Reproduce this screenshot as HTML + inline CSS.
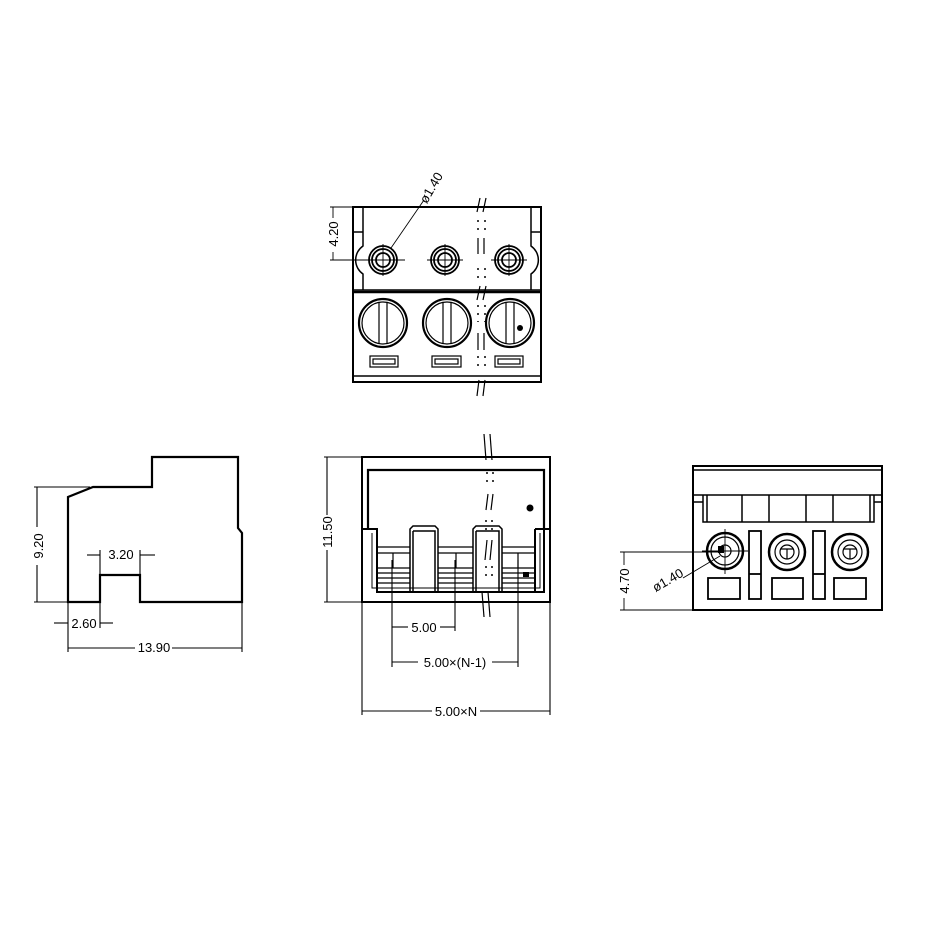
<!DOCTYPE html>
<html><head><meta charset="utf-8"><style>
html,body{margin:0;padding:0;background:#fff}
svg{display:block}
text{font-family:"Liberation Sans",sans-serif;font-size:13px;fill:#000}
</style></head><body>
<svg width="946" height="946" viewBox="0 0 946 946" xmlns="http://www.w3.org/2000/svg">
<g fill="none" stroke="#000">
<!-- LEFT SIDE VIEW -->
<path d="M68,602 V497 L93,487 H152 V457 H238 V528 L242,533 V602 H140 V575 H100 V602 Z" stroke-width="2.2"/>
<g stroke-width="1.1">
<line x1="34" y1="487" x2="90" y2="487"/><line x1="34" y1="602" x2="68" y2="602"/>
<line x1="37" y1="487" x2="37" y2="527"/><line x1="37" y1="565" x2="37" y2="602"/>
<line x1="100" y1="550" x2="100" y2="628"/><line x1="140" y1="550" x2="140" y2="575"/>
<line x1="87" y1="555" x2="100" y2="555"/><line x1="140" y1="555" x2="155" y2="555"/>
<line x1="54" y1="623" x2="68" y2="623"/><line x1="100" y1="623" x2="113" y2="623"/>
<line x1="68" y1="602" x2="68" y2="652"/><line x1="242" y1="602" x2="242" y2="652"/>
<line x1="68" y1="648" x2="135" y2="648"/><line x1="172" y1="648" x2="242" y2="648"/>
</g>
<!-- TOP VIEW -->
<rect x="353" y="207" width="188" height="175" stroke-width="2"/>
<line x1="353" y1="292" x2="541" y2="292" stroke-width="2.5"/>
<line x1="353" y1="376" x2="541" y2="376" stroke-width="1.5"/>
<path d="M363,207 V232 M353,232 H363 M363,232 V246 A17,17 0 0 0 363,274 V290 M353,290 H541" stroke-width="1.5"/>
<path d="M531,207 V232 M541,232 H531 M531,232 V246 A17,17 0 0 1 531,274 V290" stroke-width="1.5"/>
<g stroke-width="1.8">
<circle cx="383" cy="260" r="14"/><circle cx="383" cy="260" r="11"/><circle cx="383" cy="260" r="7"/>
<circle cx="445" cy="260" r="14"/><circle cx="445" cy="260" r="11"/><circle cx="445" cy="260" r="7"/>
<circle cx="509" cy="260" r="14"/><circle cx="509" cy="260" r="11"/><circle cx="509" cy="260" r="7"/>
</g>
<g stroke-width="0.9">
<line x1="365" y1="260" x2="405" y2="260"/><line x1="383" y1="244" x2="383" y2="276"/>
<line x1="427" y1="260" x2="463" y2="260"/><line x1="445" y1="244" x2="445" y2="276"/>
<line x1="491" y1="260" x2="527" y2="260"/><line x1="509" y1="244" x2="509" y2="276"/>
<line x1="330" y1="207" x2="353" y2="207"/><line x1="330" y1="260" x2="372" y2="260"/>
<line x1="333" y1="207" x2="333" y2="218"/><line x1="333" y1="252" x2="333" y2="260"/>
<line x1="391" y1="248" x2="424" y2="200"/>
</g>
<g stroke-width="2.2">
<circle cx="383" cy="323" r="24"/><circle cx="447" cy="323" r="24"/><circle cx="510" cy="323" r="24"/>
</g>
<g stroke-width="1.2">
<circle cx="383" cy="323" r="21"/><circle cx="447" cy="323" r="21"/><circle cx="510" cy="323" r="21"/>
<path d="M379,302 V344 M387,302 V344 M443,302 V344 M451,302 V344 M506,302 V344 M514,302 V344"/>
<rect x="370" y="356" width="28" height="11"/><rect x="373" y="359" width="22" height="5"/>
<rect x="432" y="356" width="29" height="11"/><rect x="435" y="359" width="23" height="5"/>
<rect x="495" y="356" width="28" height="11"/><rect x="498" y="359" width="22" height="5"/>
</g>
<circle cx="520" cy="328" r="3" fill="#000" stroke="none"/>
<g stroke-width="1.2">
<line x1="477" y1="212" x2="480" y2="198"/><line x1="483" y1="212" x2="486" y2="198"/>
<line x1="478" y1="238" x2="478" y2="254"/><line x1="484" y1="238" x2="484" y2="254"/>
<line x1="477" y1="300" x2="480" y2="286"/><line x1="483" y1="300" x2="486" y2="286"/>
<line x1="478" y1="333" x2="478" y2="350"/><line x1="484" y1="333" x2="484" y2="350"/>
<line x1="477" y1="396" x2="479" y2="380"/><line x1="483" y1="396" x2="485" y2="380"/>
</g>
<g stroke-width="1.5" stroke-dasharray="2,6">
<line x1="478" y1="220" x2="478" y2="236"/><line x1="485" y1="220" x2="485" y2="236"/>
<line x1="478" y1="268" x2="478" y2="282"/><line x1="485" y1="268" x2="485" y2="282"/>
<line x1="478" y1="305" x2="478" y2="322"/><line x1="485" y1="305" x2="485" y2="322"/>
<line x1="478" y1="356" x2="478" y2="372"/><line x1="485" y1="356" x2="485" y2="372"/>
</g>
<!-- FRONT VIEW -->
<rect x="362" y="457" width="188" height="145" stroke-width="2"/>
<path d="M368,529 V470 H544 V529" stroke-width="2.2"/>
<path d="M368,529 H377 V592 H544 V529 M535,529 H550 M362,529 H368 M535,529 V592" stroke-width="2"/>
<path d="M372,533 V588 H540 V533" stroke-width="1"/>
<path d="M410,592 V529 L413,526 H435 L438,529 V592 M413,531 H435 V592 M413,531 V592" stroke-width="1.5"/>
<path d="M473,592 V529 L476,526 H499 L502,529 V592 M476,531 H499 V592 M476,531 V592" stroke-width="1.5"/>
<g stroke-width="1.2">
<path d="M378,547 H410 M378,553 H410 M378,568 H410 M378,573 H410 M378,578 H410 M378,583 H410 M393,553 V568"/>
<path d="M438,547 H473 M438,553 H473 M438,568 H473 M438,573 H473 M438,578 H473 M438,583 H473 M456,553 V568"/>
<path d="M502,547 H535 M502,553 H535 M502,568 H535 M502,573 H535 M502,578 H535 M502,583 H535 M518,553 V568"/>
</g>
<rect x="523" y="572" width="6" height="5" fill="#000" stroke="none"/>
<circle cx="530" cy="508" r="3.5" fill="#000" stroke="none"/>
<g stroke-width="1.2">
<line x1="486" y1="460" x2="484" y2="434"/><line x1="492" y1="460" x2="490" y2="434"/>
<line x1="486" y1="510" x2="488" y2="494"/><line x1="491" y1="510" x2="493" y2="494"/>
<line x1="485" y1="560" x2="487" y2="540"/><line x1="490" y1="560" x2="492" y2="540"/>
<line x1="484" y1="617" x2="482" y2="592"/><line x1="490" y1="617" x2="488" y2="592"/>
</g>
<g stroke-width="1.5" stroke-dasharray="2,6">
<line x1="487" y1="472" x2="487" y2="488"/><line x1="493" y1="472" x2="493" y2="488"/>
<line x1="486" y1="520" x2="486" y2="530"/><line x1="492" y1="520" x2="492" y2="530"/>
<line x1="486" y1="566" x2="486" y2="582"/><line x1="492" y1="566" x2="492" y2="582"/>
</g>
<g stroke-width="1.1">
<line x1="324" y1="457" x2="362" y2="457"/><line x1="324" y1="602" x2="362" y2="602"/>
<line x1="327" y1="457" x2="327" y2="515"/><line x1="327" y1="550" x2="327" y2="602"/>
<line x1="392" y1="560" x2="392" y2="667"/><line x1="455" y1="560" x2="455" y2="631"/><line x1="518" y1="560" x2="518" y2="667"/>
<line x1="362" y1="602" x2="362" y2="715"/><line x1="550" y1="602" x2="550" y2="715"/>
<line x1="392" y1="627" x2="408" y2="627"/><line x1="440" y1="627" x2="455" y2="627"/>
<line x1="392" y1="662" x2="418" y2="662"/><line x1="492" y1="662" x2="518" y2="662"/>
<line x1="362" y1="711" x2="432" y2="711"/><line x1="480" y1="711" x2="550" y2="711"/>
</g>
<!-- RIGHT VIEW -->
<rect x="693" y="466" width="189" height="144" stroke-width="2"/>
<line x1="693" y1="470" x2="882" y2="470" stroke-width="1.5"/>
<line x1="693" y1="495" x2="882" y2="495" stroke-width="1.5"/>
<path d="M703,495 V522 H874 V495 M707,495 V522 M870,495 V522 M742,495 V522 M769,495 V522 M806,495 V522 M833,495 V522 M693,502 H703 M874,502 H882" stroke-width="1.5"/>
<g stroke-width="2.5"><circle cx="725" cy="551" r="18"/><circle cx="787" cy="552" r="18"/><circle cx="850" cy="552" r="18"/></g>
<g stroke-width="1.2"><circle cx="725" cy="551" r="14"/><circle cx="787" cy="552" r="12"/><circle cx="850" cy="552" r="12"/>
<circle cx="725" cy="551" r="6"/><circle cx="787" cy="552" r="7"/><circle cx="850" cy="552" r="7"/>
<path d="M781,549 H793 M787,549 V559 M844,549 H856 M850,549 V559"/></g>
<rect x="718" y="546" width="6" height="7" fill="#000" stroke="none"/>
<g stroke-width="0.9">
<line x1="702" y1="551" x2="748" y2="551"/><line x1="725" y1="529" x2="725" y2="574"/>
<line x1="620" y1="552" x2="722" y2="552"/><line x1="620" y1="610" x2="693" y2="610"/>
<line x1="624" y1="552" x2="624" y2="565"/><line x1="624" y1="598" x2="624" y2="610"/>
<line x1="683" y1="578" x2="720" y2="556"/>
</g>
<g stroke-width="1.8">
<rect x="749" y="531" width="12" height="68"/><line x1="749" y1="574" x2="761" y2="574"/>
<rect x="813" y="531" width="12" height="68"/><line x1="813" y1="574" x2="825" y2="574"/>
<rect x="708" y="578" width="32" height="21"/><rect x="772" y="578" width="31" height="21"/><rect x="834" y="578" width="32" height="21"/>
</g>
</g>
<!-- labels -->
<text x="43" y="546" transform="rotate(-90 43 546)" text-anchor="middle">9.20</text>
<text x="121" y="559" text-anchor="middle">3.20</text>
<text x="84" y="628" text-anchor="middle">2.60</text>
<text x="154" y="652" text-anchor="middle">13.90</text>
<text x="338" y="234" transform="rotate(-90 338 234)" text-anchor="middle">4.20</text>
<text x="435" y="190" transform="rotate(-60 435 190)" text-anchor="middle" font-size="12">ø1.40</text>
<text x="332" y="532" transform="rotate(-90 332 532)" text-anchor="middle">11.50</text>
<text x="424" y="632" text-anchor="middle">5.00</text>
<text x="455" y="667" text-anchor="middle">5.00×(N-1)</text>
<text x="456" y="716" text-anchor="middle">5.00×N</text>
<text x="629" y="581" transform="rotate(-90 629 581)" text-anchor="middle">4.70</text>
<text x="670" y="584" transform="rotate(-30 670 584)" text-anchor="middle" font-size="12">ø1.40</text>
</svg>
</body></html>
